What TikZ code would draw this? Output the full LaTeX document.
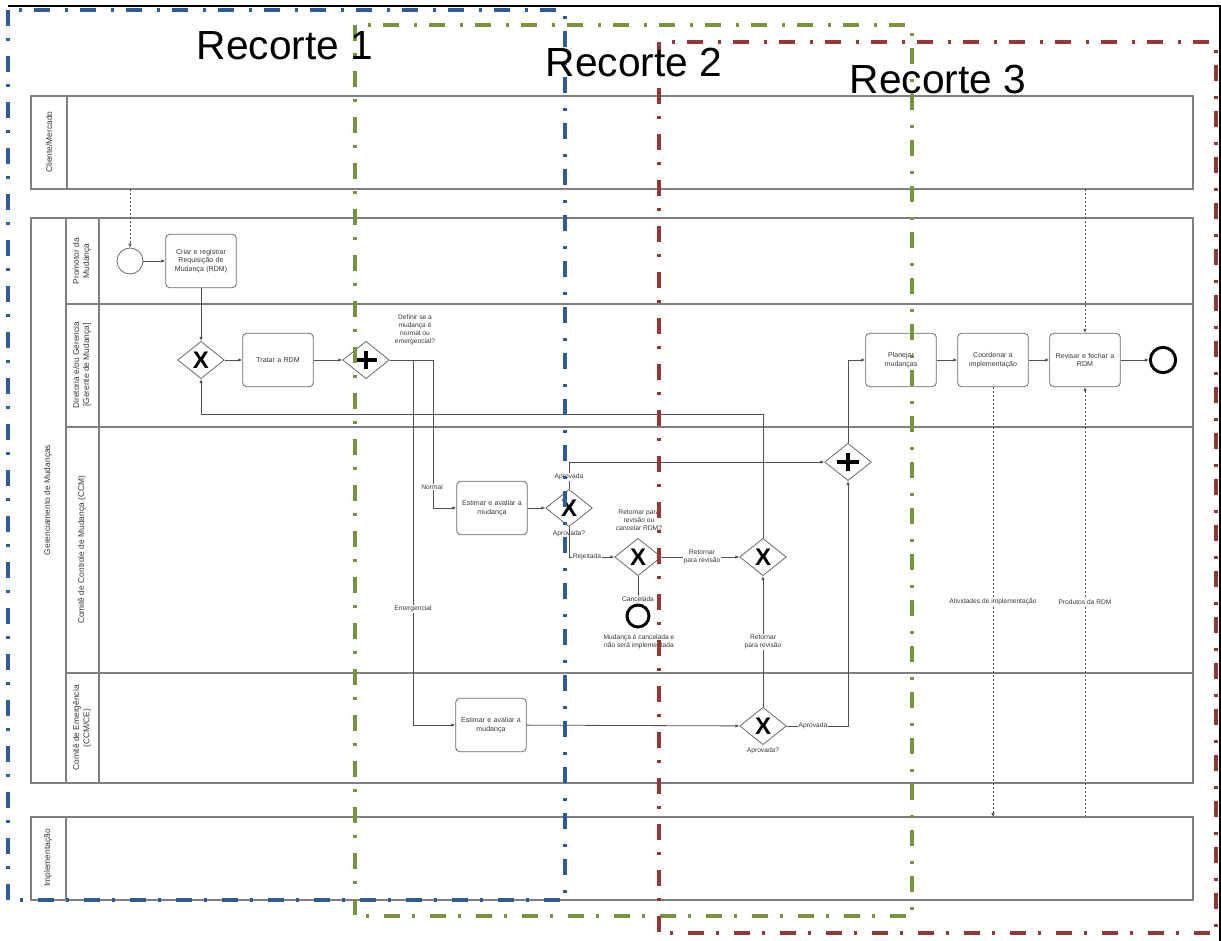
\documentclass[tikz,border=0pt]{standalone}
\usepackage{fontspec}
\setmainfont{Liberation Sans}
\usetikzlibrary{shapes.geometric,arrows.meta}
\definecolor{rblue}{HTML}{2F5B96}
\definecolor{rgreen}{HTML}{77933C}
\definecolor{rred}{HTML}{953735}
\definecolor{poolgray}{HTML}{808080}
\definecolor{boxgray}{HTML}{6A6A6A}
\definecolor{flowgray}{HTML}{505050}
\definecolor{txtgray}{HTML}{383838}
\begin{document}
\begin{tikzpicture}[x=0.75pt,y=-0.75pt,
  pool/.style={draw=poolgray,line width=0.9pt},
  task/.style={draw=boxgray,line width=0.6pt,rounded corners=3pt,minimum width=53pt,minimum height=40pt,align=center,text width=46pt,font=\fontsize{5.3}{6.4}\selectfont,text=txtgray,inner sep=1pt},
  gw/.style={diamond,draw=boxgray,line width=0.6pt,minimum width=35pt,minimum height=28pt,inner sep=0pt,font=\fontsize{18}{18}\bfseries\selectfont},
  gwp/.style={gw,path picture={\draw[black,line width=3pt]
      ([xshift=-8pt]path picture bounding box.center) -- ([xshift=8pt]path picture bounding box.center)
      ([yshift=-7pt]path picture bounding box.center) -- ([yshift=7pt]path picture bounding box.center);}},
  startev/.style={circle,draw=boxgray,line width=0.6pt,minimum size=19.5pt,inner sep=0pt},
  endev/.style={circle,draw=black,line width=2.2pt,inner sep=0pt},
  seq/.style={draw=flowgray,line width=0.6pt,-{Latex[length=3pt,width=2.6pt]}},
  msg/.style={draw=flowgray,line width=0.5pt,dash pattern=on 1.8pt off 1.2pt,-{Latex[length=3pt,width=2.6pt]}},
  lbl/.style={font=\fontsize{5}{6}\selectfont,text=txtgray,align=center,inner sep=0.6pt},
  lblw/.style={lbl,fill=white},
  lanelbl/.style={rotate=90,font=\fontsize{6.3}{7.6}\selectfont,text=txtgray,align=center,inner sep=0pt},
  rec/.style={line width=2.4pt,dash pattern=on 12pt off 9pt on 2.25pt off 11.25pt},
  bigtxt/.style={font=\fontsize{30.5}{30.5}\selectfont,inner sep=0pt}
]
\useasboundingbox (0,0) rectangle (1221,941);
\fill[white] (0,0) rectangle (1221,941);
% black frame
\draw[black,line width=1.6pt] (8,6) -- (1220,6) -- (1220,941);

% pools and lanes
\draw[pool] (31,96) rectangle (1193,189);
\draw[pool] (67,96) -- (67,189);
\draw[pool] (31,218) rectangle (1193,783);
\draw[pool] (66,218) -- (66,783);
\draw[pool] (99,218) -- (99,783);
\draw[pool] (66,304) -- (1193,304);
\draw[pool] (66,427) -- (1193,427);
\draw[pool] (66,673) -- (1193,673);
\draw[pool] (31,817) rectangle (1193,900);
\draw[pool] (66,817) -- (66,900);

\node[lanelbl] (lcli) at (49,142) {Cliente/Mercado};
\node[lanelbl] (lger) at (48,500) {Gerenciamento de Mudanças};
\node[lanelbl] (lpro) at (82,261) {Promotor da\\Mudança};
\node[lanelbl] (ldir) at (82,365) {Diretoria e/ou Gerencia\\{[}Gerente de Mudança{]}};
\node[lanelbl] (lccm) at (82,550) {Comitê de Controle de Mudança (CCM)};
\node[lanelbl] (lcce) at (82,728) {Comitê de Emergência\\(CCM/CE)};
\node[lanelbl] (limp) at (48,858) {Implementação};

% nodes
\node[startev] (start) at (130,261) {};
\node[task] (t1) at (201,261) {Criar e registrar\\Requisição de\\Mudança (RDM)};
\node[gw] (x1) at (201,360) {X};
\node[task] (t2) at (278,360) {Tratar a RDM};
\node[gwp] (p1) at (366,360) {};
\node[task] (t3) at (492,508) {Estimar e avaliar a\\mudança};
\node[gw] (x2) at (569,508) {X};
\node[gw] (x3) at (638,557) {X};
\node[gw] (x4) at (763,557) {X};
\node[endev,minimum size=16.5pt] (endc) at (638,616) {};
\node[task] (t4) at (491,725) {Estimar e avaliar a\\mudança};
\node[gw] (x5) at (763,726) {X};
\node[gwp] (p2) at (848,462) {};
\node[task] (t5) at (901,360) {Planejar\\mudanças};
\node[task] (t6) at (993,360) {Coordenar a\\implementação};
\node[task] (t7) at (1085,360) {Revisar e fechar a\\RDM};
\node[endev,minimum size=19pt] (ende) at (1163,360) {};

\coordinate (cn) at (433,508);
\coordinate (ce) at (413,725);
\coordinate (r1) at (763,414);
\coordinate (r2) at (201,414);
\coordinate (m0) at (130,189);
\coordinate (m1) at (993,817);
\coordinate (m2) at (1085,817);
\coordinate (m3) at (1085,189);

% sequence flows
\draw[seq] (start) -- (t1);
\draw[seq] (t1) -- (x1);
\draw[seq] (x1) -- (t2);
\draw[seq] (t2) -- (p1);
\draw[seq] (p1.east) -| (cn) -- (t3.west);
\draw[seq] (p1.east) -| (ce) -- (t4.west);
\draw[seq] (t3) -- (x2);
\draw[seq] (x2.north) |- (p2.west);
\draw[seq] (x2.south) |- (x3.west);
\draw[seq] (x3) -- (x4);
\draw[seq] (x3.south) -- (endc.north);
\draw[seq] (x4.north) -- (r1) -- (r2) -- (x1.south);
\draw[seq] (t4) -- (x5);
\draw[seq] (x5.north) -- (x4.south);
\draw[seq] (x5.east) -| (p2.south);
\draw[seq] (p2.north) |- (t5.west);
\draw[seq] (t5) -- (t6);
\draw[seq] (t6) -- (t7);
\draw[seq] (t7) -- (ende);

% message flows
\draw[msg] (m0) -- (start.north);
\draw[msg] (t6.south) -- (m1);
\draw[msg] (m2) -- (t7.south);
\draw[msg] (m3) -- (t7.north);

% labels
\node[lbl] (ldef) at (415,330) {Definir se a\\mudança é\\normal ou\\emergencial?};
\node[lblw] (lnor) at (432,487) {Normal};
\node[lblw] (lemg) at (413,609) {Emergencial};
\node[lblw] (lap1) at (569,477) {Aprovada};
\node[lbl] (lap1q) at (569,534) {Aprovada?};
\node[lblw] (lrej) at (587,557) {Rejeitada};
\node[lbl] (lret) at (639,520) {Retornar para\\revisão ou\\cancelar RDM?};
\node[lblw] (lrev1) at (702,557) {Retornar\\para revisão};
\node[lblw] (lcan) at (638,599) {Cancelada};
\node[lbl] (lcmsg) at (639,642) {Mudança é cancelada e\\não será implementada};
\node[lblw] (lrev2) at (763,642) {Retornar\\para revisão};
\node[lbl] (lap2q) at (763,751) {Aprovada?};
\node[lblw] (lap2) at (813,726) {Aprovada};
\node[lblw] (latv) at (993,602) {Atividades de implementação};
\node[lblw] (lprd) at (1085,602) {Produtos da RDM};

% recortes
\draw[rec,rblue] (8,10) rectangle (565,900);
\draw[rec,rgreen] (355,25) rectangle (912,916);
\draw[rec,rred] (659,42) rectangle (1216,933);
\node[bigtxt] (rc1) at (285,46) {Recorte 1};
\node[bigtxt] (rc2) at (634,63) {Recorte 2};
\node[bigtxt] (rc3) at (938,80) {Recorte 3};
\end{tikzpicture}
\end{document}
